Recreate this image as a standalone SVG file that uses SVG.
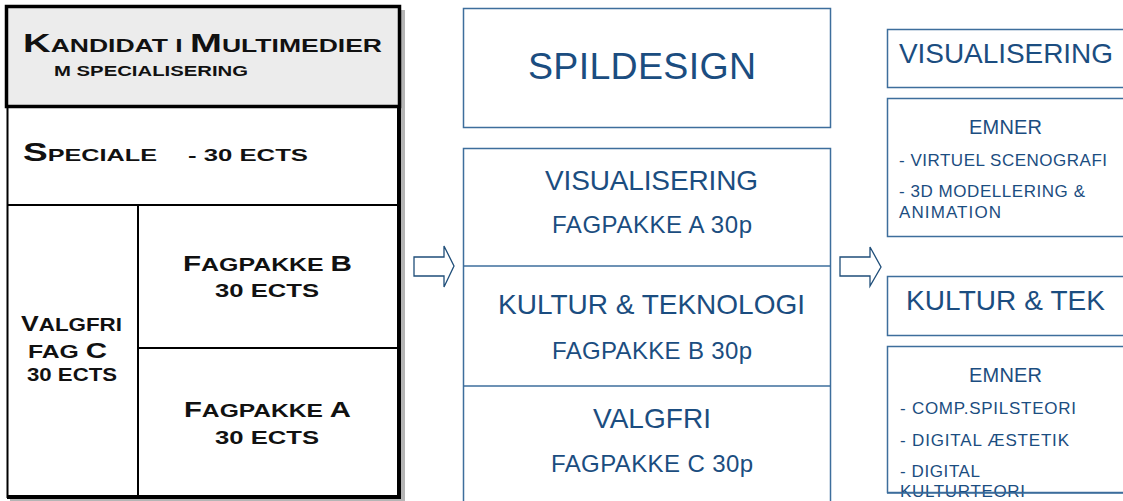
<svg xmlns="http://www.w3.org/2000/svg" width="1123" height="501" viewBox="0 0 1123 501">
<style>
.cp{font-family:"Liberation Sans",Arial,sans-serif;font-weight:bold;fill:#111;}
.b{font-size:26px;}
.s{font-size:18px;}
.bl{fill:none;stroke:#3d6e9c;stroke-width:1.5;}
.bt{font-family:"Liberation Sans",Arial,sans-serif;fill:#1b4d80;}
.t28{font-size:28px;}
.t24{font-size:24px;}
.t17{font-size:17px;}
.t20{font-size:20px;}
.ln{stroke:#000;stroke-width:2;fill:none;}
</style>
<rect width="1123" height="501" fill="#fff"/>

<g id="left-box">
  <rect x="401" y="10" width="4" height="491" fill="#b5b5b5"/>
  <rect x="10" y="499" width="395" height="2" fill="#b5b5b5"/>
  <rect x="7.5" y="106" width="391" height="391" class="ln"/>
  <rect x="397" y="6" width="4" height="493" fill="#000"/>
  <rect x="7" y="495" width="394" height="4" fill="#000"/>
  <line x1="7" y1="205" x2="399" y2="205" class="ln"/>
  <line x1="138" y1="205" x2="138" y2="497" class="ln"/>
  <line x1="138" y1="348" x2="399" y2="348" class="ln"/>
</g>

<g id="header">
  <rect x="6.5" y="6.5" width="393" height="100" fill="#ececec" stroke="#000" stroke-width="3.5"/>
  <text class="cp" x="23" y="52" textLength="359" lengthAdjust="spacingAndGlyphs"><tspan class="b">K</tspan><tspan class="s">ANDIDAT I </tspan><tspan class="b">M</tspan><tspan class="s">ULTIMEDIER</tspan></text>
  <text class="cp" x="54" y="76" font-size="14" textLength="194" lengthAdjust="spacingAndGlyphs">M SPECIALISERING</text>
</g>

<g id="speciale">
  <text class="cp" x="23" y="161" textLength="134" lengthAdjust="spacingAndGlyphs"><tspan font-size="25">S</tspan><tspan font-size="17">PECIALE</tspan></text>
  <text class="cp" x="188" y="161" font-size="17" textLength="120" lengthAdjust="spacingAndGlyphs">- 30 ECTS</text>
</g>

<g id="fagpakke-b">
  <text class="cp" x="183" y="271" textLength="169" lengthAdjust="spacingAndGlyphs"><tspan font-size="22">F</tspan><tspan font-size="18.5">AGPAKKE </tspan><tspan font-size="22">B</tspan></text>
  <text class="cp" x="215" y="297" font-size="18.5" textLength="104" lengthAdjust="spacingAndGlyphs">30 ECTS</text>
</g>

<g id="fagpakke-a">
  <text class="cp" x="184" y="417" textLength="167" lengthAdjust="spacingAndGlyphs"><tspan font-size="22">F</tspan><tspan font-size="18.5">AGPAKKE </tspan><tspan font-size="22">A</tspan></text>
  <text class="cp" x="215" y="444" font-size="18.5" textLength="104" lengthAdjust="spacingAndGlyphs">30 ECTS</text>
</g>

<g id="valgfri-c">
  <text class="cp" x="21" y="331" textLength="101" lengthAdjust="spacingAndGlyphs"><tspan font-size="22">V</tspan><tspan font-size="18.5">ALGFRI</tspan></text>
  <text class="cp" x="28" y="358" textLength="79" lengthAdjust="spacingAndGlyphs"><tspan font-size="18.5">FAG </tspan><tspan font-size="22">C</tspan></text>
  <text class="cp" x="27" y="381" font-size="18.5" textLength="90" lengthAdjust="spacingAndGlyphs">30 ECTS</text>
</g>

<g id="connectors">
  <polygon points="414,257 444,257 444,246 454,266 444,287 444,276 414,276" fill="#fff" stroke="#1f4e79" stroke-width="1.3"/>
  <polygon points="840,257 870,257 870,247 881,267 870,286 870,276 840,276" fill="#fff" stroke="#1f4e79" stroke-width="1.3"/>
</g>

<g id="spildesign">
  <rect x="463.5" y="8.5" width="367" height="119" class="bl"/>
  <text class="bt" x="528" y="79" font-size="37.5" textLength="228">SPILDESIGN</text>
</g>

<g id="fagpakker-stack">
  <rect x="463.5" y="148.5" width="367" height="370" class="bl"/>
  <line x1="463" y1="266" x2="831" y2="266" class="bl"/>
  <line x1="463" y1="386" x2="831" y2="386" class="bl"/>
</g>
<g id="visualisering-a">
  <text class="bt t28" x="545" y="190" textLength="213">VISUALISERING</text>
  <text class="bt t24" x="552" y="233" textLength="200">FAGPAKKE A 30p</text>
</g>
<g id="kultur-b">
  <text class="bt t28" x="498" y="314" textLength="307">KULTUR &amp; TEKNOLOGI</text>
  <text class="bt t24" x="552" y="359" textLength="200">FAGPAKKE B 30p</text>
</g>
<g id="valgfri-c-blue">
  <text class="bt t28" x="593" y="428" textLength="118">VALGFRI</text>
  <text class="bt t24" x="551" y="472" textLength="202">FAGPAKKE C 30p</text>
</g>

<g id="visualisering-title">
  <rect x="887.5" y="29.5" width="250" height="58" class="bl"/>
  <text class="bt t28" x="899" y="63" textLength="214">VISUALISERING</text>
</g>
<g id="visualisering-emner">
  <rect x="887.5" y="98.5" width="250" height="138" class="bl"/>
  <text class="bt t20" x="969" y="134" textLength="73">EMNER</text>
  <text class="bt t17" x="899" y="166" textLength="208">- VIRTUEL SCENOGRAFI</text>
  <text class="bt t17" x="899" y="197" textLength="186">- 3D MODELLERING &amp;</text>
  <text class="bt t17" x="899" y="218" textLength="102">ANIMATION</text>
</g>

<g id="kultur-title">
  <rect x="887.5" y="276.5" width="250" height="59" class="bl"/>
  <text class="bt t28" x="906" y="310" textLength="199">KULTUR &amp; TEK</text>
</g>
<g id="kultur-emner">
  <rect x="887.5" y="346.5" width="250" height="146" class="bl"/>
  <text class="bt t20" x="969" y="382" textLength="73">EMNER</text>
  <text class="bt t17" x="900" y="414" textLength="176">- COMP.SPILSTEORI</text>
  <text class="bt t17" x="900" y="446" textLength="169">- DIGITAL ÆSTETIK</text>
  <text class="bt t17" x="900" y="477" textLength="80">- DIGITAL</text>
  <text class="bt t17" x="900" y="497" textLength="125">KULTURTEORI</text>
  <line x1="887" y1="493" x2="1123" y2="493" class="bl"/>
</g>
</svg>
